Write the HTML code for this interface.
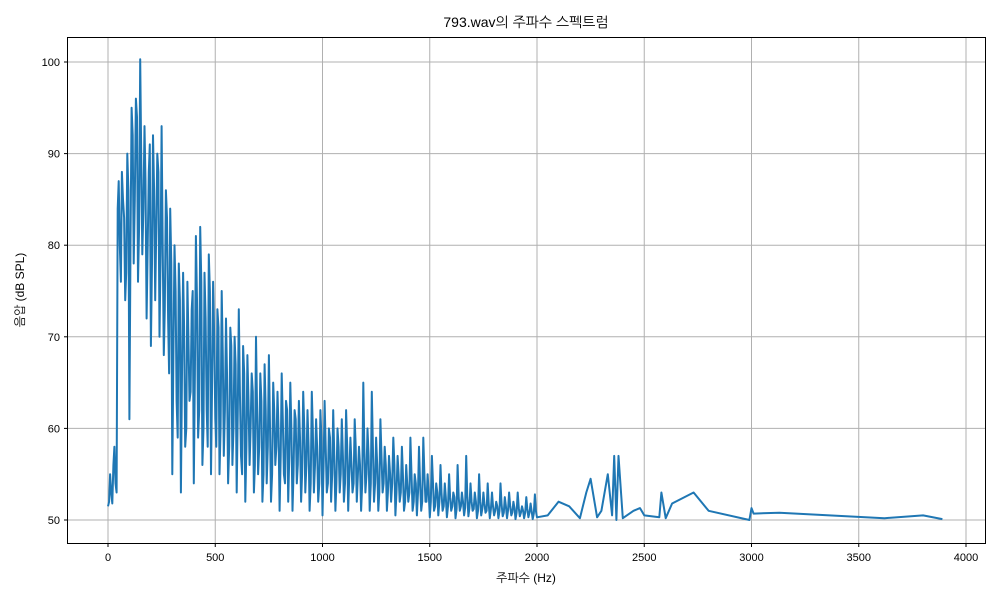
<!DOCTYPE html>
<html><head><meta charset="utf-8"><style>
body{margin:0;background:#fff;}
svg text{font-family:"Liberation Sans","NanumGothic","Noto Sans CJK KR",sans-serif;fill:#000;}
</style></head><body>
<svg id="chart" width="1000" height="600" xmlns="http://www.w3.org/2000/svg">
<rect width="1000" height="600" fill="#fff"/>
<g id="grid"></g><g id="ticks"></g>
<polyline id="line" fill="none" stroke="#1f77b4" stroke-width="2" stroke-linejoin="round"/>
<rect x="67.5" y="37.5" width="918" height="506" fill="none" stroke="#000" stroke-width="1"/>
<text x="526" y="27" font-size="14" text-anchor="middle">793.wav의 주파수 스펙트럼</text>
<text x="526" y="582" font-size="12" text-anchor="middle">주파수 (Hz)</text>
<text transform="translate(24,290) rotate(-90)" font-size="12" text-anchor="middle">음압 (dB SPL)</text>
</svg>
<script>
const xTicks=[0,500,1000,1500,2000,2500,3000,3500,4000];
const yTicks=[50,60,70,80,90,100];
const denseStartHz=0;
const denseStepHz=10;
const denseDb=[51.5,55,51.8,58,53,87,76,85,74,90,61,95,78,96,76,100.3,79,93,72,88,69,92,74,90,70,93,68,86,72,84,55,80,63,78,53,77,58,76,63,73,54,81,59,82,56,77,62,79,55,76,61,73,55,75,57,72,54,71,56,70,53,73,57,69,52,68,56,66,53,70,55,66,52,67,54,68,52,65,56,64,51,66,55,63,52,65,51,62,54,63,52,64,53,62,51,64,53,61,52,62,50.5,63,53,60,52,62,51,60,53,61,52,62,51,59,53,61,52,58,51,65,53,60,51,64,52,59,51,61,53,58,51,57,52,59,50.5,57,52,58,51,56,52,59,51,55,50.5,58,51,59,52,55,50.3,57,51,54,50.5,56,51,54,50.3,55,51,53,50.2,56,51,53,50.5,57,50.4,54,51,53,50.2,55,50.5,53,50.8,54,50.2,53,50.5,52,50.2,54,50.4,52.5,50.2,53,50.5,52,50.1,53,50.4,51.5,50.2,52.5,50.3,51.8,50.1,52.8,50.3];
const midDb=[52,53,56,54,84,80,88,83,77,86,80,92,85,94,82,90,84,87,80,91,78,86,82,88,79,80,73,83,66,78,68,75,59,74,66,71,60,70,64,75,66,74,62,76,60,72,58,75,64,70,58,71,60,68,62,66,58,69,60,67,62,64,55,66,58,63,60,64,56,62,58,63,55,62,58,61,55,62,58,60,57,61,54,62,57,60,55,61,56,59,55,60,56,58,54,60,56,58,54,59,56,58,54,59,55,57,54,58,55,57,54,58,55,56,54,58,55,56,54,58,55,57,54,58,54,56,53,57,54,56,53,55,54,56,53,55,53,55,52,54,53,55,52,54,53,54,52,55,52,53,52,54,51.5,53,52,53,51.5,52.5,51.5,52.5,51.5,52.5,51.2,52.5,51.5,52,51.3,52.5,51.3,52,51.2,52,51,52,51.2,51.8,51,51.8,51.2,51.5,51,51.5,51,51.7,50.8,51.5,51,51.5,50.8,51.3,50.8,51.3,50.8,51,50.8,51.2,50.8,51,50.7,51];
const sparseHz=[2050,2100,2150,2200,2230,2250,2280,2300,2330,2350,2360,2370,2380,2400,2450,2480,2500,2570,2580,2600,2630,2730,2800,2990,3000,3010,3130,3620,3800,3890];
const sparseDb=[50.5,52,51.5,50.2,53,54.5,50.3,51,55,50.5,57,50,57,50.2,51,51.3,50.5,50.3,53,50.2,51.8,53,51,50,51.3,50.7,50.8,50.2,50.5,50.1];
const X=f=>108+f*(966-108)/4000;
const Y=v=>520-(v-50)*(520-62)/50;
const NS='http://www.w3.org/2000/svg';
const grid=document.getElementById('grid'),ticks=document.getElementById('ticks');
function mk(tag,attrs,parent){const e=document.createElementNS(NS,tag);for(const k in attrs)e.setAttribute(k,attrs[k]);parent.appendChild(e);return e;}
xTicks.forEach(t=>{const x=X(t);
 const g=mk('line',{x1:x,x2:x,y1:37.5,y2:543.5,stroke:'#b0b0b0','stroke-width':1},grid);
 
 
 mk('line',{x1:x,x2:x,y1:543.5,y2:547,stroke:'#000'},ticks);
 const tx=mk('text',{x:x,y:561,'font-size':11,'text-anchor':'middle'},ticks);tx.textContent=t;
 
 });
yTicks.forEach(t=>{const y=Y(t);
 const g=mk('line',{x1:67.5,x2:985.5,y1:y,y2:y,stroke:'#b0b0b0','stroke-width':1},grid);
 
 
 mk('line',{x1:64,x2:67.5,y1:y,y2:y,stroke:'#000'},ticks);
 const tx=mk('text',{x:60,y:y+4,'font-size':11,'text-anchor':'end'},ticks);tx.textContent=t;
 
 });
const pts=[];
denseDb.forEach((v,i)=>{
 pts.push(X(denseStartHz+i*denseStepHz).toFixed(1)+','+Y(v).toFixed(1));
 if(i<midDb.length) pts.push(X(denseStartHz+i*denseStepHz+denseStepHz/2).toFixed(1)+','+Y(midDb[i]).toFixed(1));
});
sparseHz.forEach((f,i)=>pts.push(X(f).toFixed(1)+','+Y(sparseDb[i]).toFixed(1)));
document.getElementById('line').setAttribute('points',pts.join(' '));
</script>
</body></html>
